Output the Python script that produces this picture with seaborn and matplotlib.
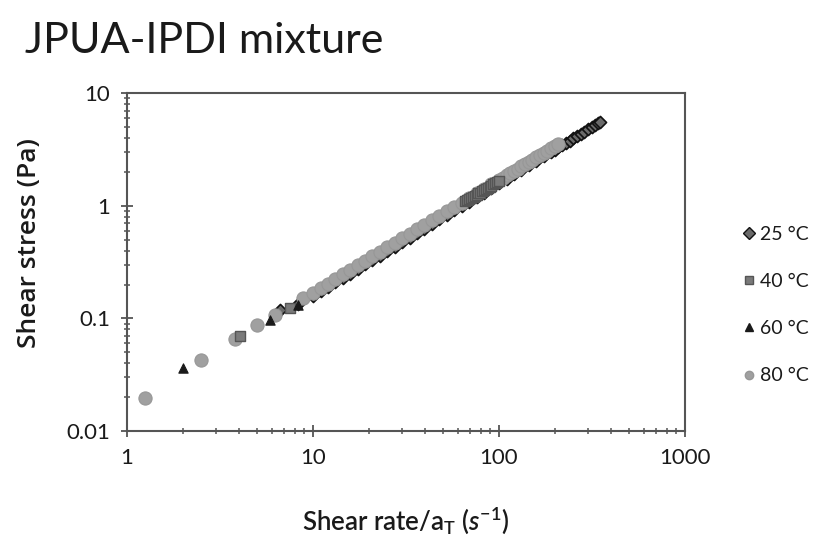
import numpy as np
import pandas as pd
import matplotlib
matplotlib.use("Agg")
import matplotlib.pyplot as plt
from matplotlib.lines import Line2D
from matplotlib.ticker import LogLocator, FixedLocator, NullFormatter, FixedFormatter
import seaborn as sns

# ---------------- data ----------------
x_25 = [6.64, 8.3, 10.0, 11.0, 12.0, 13.2, 14.5, 15.8, 17.4, 19.1, 20.9, 22.9, 25.1, 27.5,
        30.2, 33.1, 36.3, 39.8, 43.7, 47.9, 52.5, 57.5, 63.1, 69.2, 75.9, 83.2, 91.2, 100,
        110, 120, 132, 145, 158, 174, 191, 200, 209, 219, 229, 240, 251, 263, 275, 288,
        302, 316, 331, 340, 350]
y_25 = [0.118, 0.134, 0.158, 0.174, 0.190, 0.209, 0.229, 0.250, 0.275, 0.302, 0.330, 0.362,
        0.397, 0.435, 0.477, 0.523, 0.574, 0.629, 0.690, 0.757, 0.830, 0.909, 0.997, 1.09,
        1.20, 1.31, 1.44, 1.58, 1.74, 1.90, 2.09, 2.29, 2.50, 2.75, 3.02, 3.16, 3.30, 3.46,
        3.62, 3.79, 3.97, 4.15, 4.35, 4.55, 4.77, 5.00, 5.23, 5.40, 5.60]

x_40 = [4.05, 7.5, 66.1, 67.6, 69.2, 70.8, 72.4, 74.1, 75.9, 77.6, 79.4, 81.3, 83.2, 85.1,
        87.1, 89.1, 91.2, 93.3, 95.5, 97.7, 100]
y_40 = [0.070, 0.125, 1.10, 1.12, 1.15, 1.18, 1.20, 1.23, 1.26, 1.29, 1.31, 1.35, 1.38, 1.41,
        1.44, 1.48, 1.51, 1.55, 1.58, 1.62, 1.66]

x_60 = [2.0, 5.87, 8.3]
y_60 = [0.036, 0.096, 0.133]

x_80 = [1.25, 2.5, 3.8, 5.0, 6.24, 8.8, 10.0, 11.0, 12.0, 13.2, 14.5, 15.8, 17.4, 19.1,
        20.9, 22.9, 25.1, 27.5, 30.2, 33.1, 36.3, 39.8, 43.7, 47.9, 52.5, 57.5, 63.1, 69.2,
        75.9, 83.2, 91.2, 100, 105, 110, 115, 120, 126, 132, 138, 145, 151, 158, 166, 174,
        182, 191, 200, 209]
y_80 = [0.0196, 0.043, 0.066, 0.088, 0.108, 0.152, 0.170, 0.187, 0.204, 0.225, 0.247, 0.269,
        0.296, 0.325, 0.355, 0.389, 0.427, 0.468, 0.513, 0.563, 0.617, 0.677, 0.743, 0.814,
        0.893, 0.978, 1.07, 1.18, 1.29, 1.41, 1.55, 1.70, 1.78, 1.87, 1.95, 2.04, 2.14, 2.24,
        2.35, 2.47, 2.57, 2.69, 2.82, 2.96, 3.09, 3.25, 3.40, 3.55]

labels = ["25 °C", "40 °C", "60 °C", "80 °C"]
x_ticks = [1, 10, 100, 1000]
x_ticklabels = ["1", "10", "100", "1000"]
y_ticks = [0.01, 0.1, 1, 10]
y_ticklabels = ["0.01", "0.1", "1", "10"]

# ---------------- styling ----------------
sns.set_style("white")
plt.rcParams["font.family"] = ["Lato", "DejaVu Sans"]
plt.rcParams["mathtext.fontset"] = "custom"
plt.rcParams["mathtext.rm"] = "Lato:semibold"
plt.rcParams["mathtext.it"] = "Lato:italic:semibold"
plt.rcParams["mathtext.bf"] = "Lato:bold"

fig = plt.figure(figsize=(8.25, 5.45), dpi=100)
ax = fig.add_axes([0.154, 0.209, 0.676, 0.620])

styles = {
    "25 °C": dict(marker="D", color="#6a6a6a", edgecolor="#111111", s=38, lw=1.2),
    "40 °C": dict(marker="s", color="#7a7a7a", edgecolor="#555555", s=60, lw=1.0),
    "60 °C": dict(marker="^", color="#1a1a1a", edgecolor="#1a1a1a", s=45, lw=0.8),
    "80 °C": dict(marker="o", color="#a0a0a0", edgecolor="#979797", s=90, lw=0.8),
}

data = {
    "25 °C": (x_25, y_25),
    "40 °C": (x_40, y_40),
    "60 °C": (x_60, y_60),
    "80 °C": (x_80, y_80),
}

draw_order = ["25 °C", "80 °C", "40 °C", "60 °C"]
for lab in draw_order:
    xs, ys = data[lab]
    st = styles[lab]
    df = pd.DataFrame({"x": xs, "y": ys})
    sns.scatterplot(data=df, x="x", y="y", ax=ax, marker=st["marker"], color=st["color"],
                    edgecolor=st["edgecolor"], s=st["s"], linewidth=st["lw"], legend=False,
                    zorder=3)

ax.set_xscale("log")
ax.set_yscale("log")
ax.set_xlim(1, 1000)
ax.set_ylim(0.01, 10)

ax.xaxis.set_major_locator(FixedLocator(x_ticks))
ax.xaxis.set_major_formatter(FixedFormatter(x_ticklabels))
ax.yaxis.set_major_locator(FixedLocator(y_ticks))
ax.yaxis.set_major_formatter(FixedFormatter(y_ticklabels))
ax.xaxis.set_minor_locator(LogLocator(base=10, subs=np.arange(2, 10), numticks=20))
ax.yaxis.set_minor_locator(LogLocator(base=10, subs=np.arange(2, 10), numticks=20))
ax.xaxis.set_minor_formatter(NullFormatter())
ax.yaxis.set_minor_formatter(NullFormatter())

ax.tick_params(axis="both", which="major", direction="inout", length=8, width=1.3,
               color="#555555", labelsize=16, labelcolor="#1a1a1a", pad=8,
               bottom=True, left=True)
ax.tick_params(axis="both", which="minor", direction="inout", length=5, width=1.1,
               color="#555555", bottom=True, left=True)

for sp in ax.spines.values():
    sp.set_visible(True)
    sp.set_color("#555555")
    sp.set_linewidth(1.5)

ax.set_xlabel(r"Shear rate/a$_\mathrm{T}$ ($\mathit{s}^\mathrm{-1}$)", fontsize=18.5,
              fontweight="semibold", color="#1a1a1a")
ax.xaxis.set_label_coords(0.5, -0.22)
ax.set_ylabel("Shear stress (Pa)", fontsize=19, fontweight="semibold", color="#1a1a1a",
              family=["Open Sans", "DejaVu Sans"])
ax.yaxis.set_label_coords(-0.152, 0.555)

fig.text(0.03, 0.925, "JPUA-IPDI mixture", fontsize=31, color="#1a1a1a",
         ha="left", va="center")

handles = [Line2D([], [], linestyle="none", marker=styles[l]["marker"],
                  markerfacecolor=styles[l]["color"], markeredgecolor=styles[l]["edgecolor"],
                  markersize=6, markeredgewidth=1.0) for l in labels]
fig.legend(handles, labels, loc="center left", bbox_to_anchor=(0.875, 0.44),
           frameon=False, fontsize=14, labelspacing=1.55, handletextpad=0.05,
           handlelength=1.0, labelcolor="#1a1a1a")

fig.savefig("out.png", dpi=100, facecolor="white")
